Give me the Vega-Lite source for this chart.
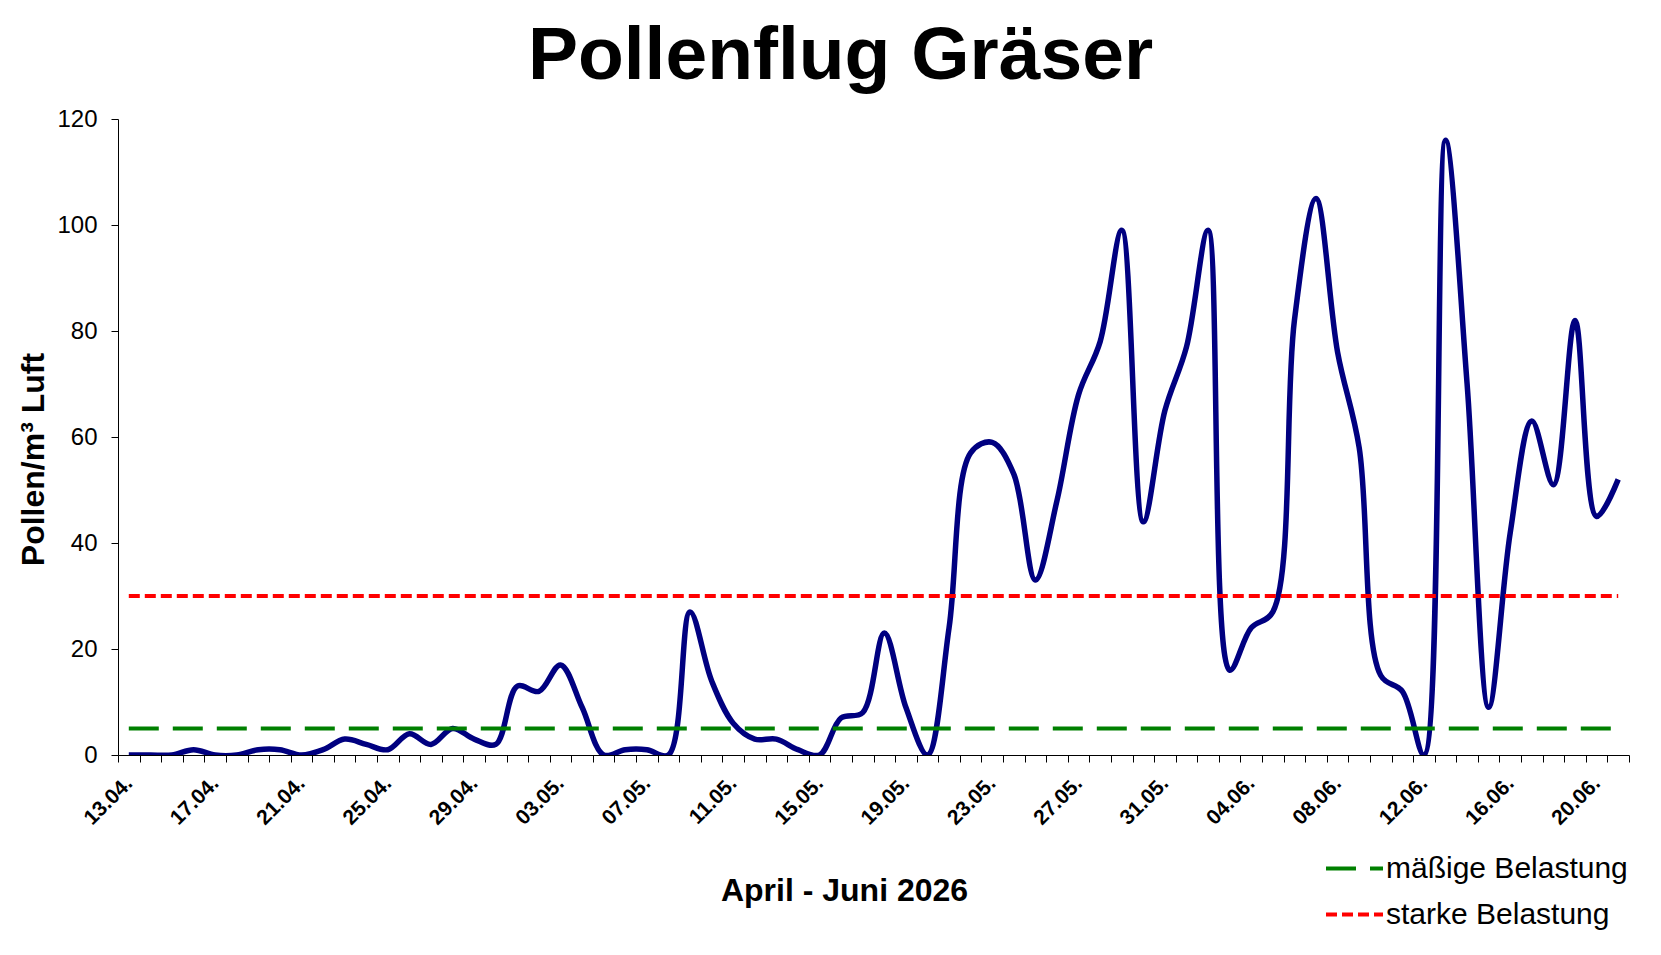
{
  "$schema": "https://vega.github.io/schema/vega-lite/v6.json",
  "width": 1511,
  "height": 636,
  "autosize": {"type": "none"},
  "padding": {"left": 118, "top": 119, "right": 32, "bottom": 200},
  "background": "white",
  "config": {"view": {"stroke": null}, "font": "Liberation Sans"},
  "title": {
    "text": "Pollenflug Gräser",
    "font": "Liberation Sans",
    "fontSize": 75,
    "fontWeight": "bold",
    "color": "black",
    "anchor": "middle",
    "frame": "group",
    "dx": -33,
    "dy": 82,
    "offset": 35,
    "baseline": "alphabetic"
  },
  "datasets": {
    "pollen": [
      {"Datum": "13.04.", "Wert": 0}, {"Datum": "14.04.", "Wert": 0}, {"Datum": "15.04.", "Wert": 0},
      {"Datum": "16.04.", "Wert": 1}, {"Datum": "17.04.", "Wert": 0}, {"Datum": "18.04.", "Wert": 0},
      {"Datum": "19.04.", "Wert": 1}, {"Datum": "20.04.", "Wert": 1}, {"Datum": "21.04.", "Wert": 0},
      {"Datum": "22.04.", "Wert": 1}, {"Datum": "23.04.", "Wert": 3}, {"Datum": "24.04.", "Wert": 2},
      {"Datum": "25.04.", "Wert": 1}, {"Datum": "26.04.", "Wert": 4}, {"Datum": "27.04.", "Wert": 2},
      {"Datum": "28.04.", "Wert": 5}, {"Datum": "29.04.", "Wert": 3}, {"Datum": "30.04.", "Wert": 2},
      {"Datum": "01.05.", "Wert": 13}, {"Datum": "02.05.", "Wert": 12}, {"Datum": "03.05.", "Wert": 17},
      {"Datum": "04.05.", "Wert": 9}, {"Datum": "05.05.", "Wert": 0}, {"Datum": "06.05.", "Wert": 1},
      {"Datum": "07.05.", "Wert": 1}, {"Datum": "08.05.", "Wert": 0}, {"Datum": "09.05.", "Wert": 27},
      {"Datum": "10.05.", "Wert": 14}, {"Datum": "11.05.", "Wert": 6}, {"Datum": "12.05.", "Wert": 3},
      {"Datum": "13.05.", "Wert": 3}, {"Datum": "14.05.", "Wert": 1}, {"Datum": "15.05.", "Wert": 0},
      {"Datum": "16.05.", "Wert": 7}, {"Datum": "17.05.", "Wert": 8}, {"Datum": "18.05.", "Wert": 23},
      {"Datum": "19.05.", "Wert": 9}, {"Datum": "20.05.", "Wert": 0}, {"Datum": "21.05.", "Wert": 24},
      {"Datum": "22.05.", "Wert": 57}, {"Datum": "23.05.", "Wert": 59}, {"Datum": "24.05.", "Wert": 53},
      {"Datum": "25.05.", "Wert": 33}, {"Datum": "26.05.", "Wert": 48}, {"Datum": "27.05.", "Wert": 68},
      {"Datum": "28.05.", "Wert": 78}, {"Datum": "29.05.", "Wert": 99}, {"Datum": "30.05.", "Wert": 44},
      {"Datum": "31.05.", "Wert": 65}, {"Datum": "01.06.", "Wert": 77}, {"Datum": "02.06.", "Wert": 99},
      {"Datum": "03.06.", "Wert": 16}, {"Datum": "04.06.", "Wert": 24}, {"Datum": "05.06.", "Wert": 27},
      {"Datum": "06.06.", "Wert": 82}, {"Datum": "07.06.", "Wert": 105}, {"Datum": "08.06.", "Wert": 76},
      {"Datum": "09.06.", "Wert": 58}, {"Datum": "10.06.", "Wert": 15}, {"Datum": "11.06.", "Wert": 12},
      {"Datum": "12.06.", "Wert": 0}, {"Datum": "13.06.", "Wert": 116}, {"Datum": "14.06.", "Wert": 70},
      {"Datum": "15.06.", "Wert": 9}, {"Datum": "16.06.", "Wert": 42}, {"Datum": "17.06.", "Wert": 63},
      {"Datum": "18.06.", "Wert": 51}, {"Datum": "19.06.", "Wert": 82}, {"Datum": "20.06.", "Wert": 45},
      {"Datum": "21.06.", "Wert": 52}
    ],
    "grenzen": [
      {"Belastung": "mäßige Belastung", "Wert": 5, "Datum": "13.04.", "bis": "21.06."},
      {"Belastung": "starke Belastung", "Wert": 30, "Datum": "13.04.", "bis": "21.06."}
    ]
  },
  "layer": [
    {
      "data": {"name": "pollen"},
      "mark": {
        "type": "line",
        "color": "#000080",
        "strokeWidth": 5.5,
        "interpolate": "catmull-rom",
        "clip": true
      },
      "encoding": {
        "x": {
          "field": "Datum",
          "type": "ordinal",
          "sort": null,
          "bandPosition": 0.5,
          "scale": {"type": "band", "paddingInner": 0, "paddingOuter": 0},
          "axis": {
            "title": "April - Juni 2026",
            "titleFont": "Liberation Sans",
            "titleFontSize": 32,
            "titleFontWeight": "bold",
            "titleColor": "black",
            "titleX": 726,
            "titleY": 145,
            "titleAlign": "center",
            "titleBaseline": "alphabetic",
            "labelExpr": "round(datum.index * 69) % 4 == 0 ? datum.label : ''",
            "labelAngle": -45,
            "labelAlign": "right",
            "labelBaseline": "middle",
            "labelFont": "Liberation Sans",
            "labelFontSize": 21,
            "labelFontWeight": "bold",
            "labelColor": "black",
            "labelPadding": 18,
            "labelOverlap": false,
            "tickBand": "extent",
            "tickSize": 7,
            "tickColor": "black",
            "domainColor": "black"
          }
        },
        "y": {
          "field": "Wert",
          "type": "quantitative",
          "scale": {"domain": [0, 120], "nice": false},
          "axis": {
            "title": "Pollen/m³ Luft",
            "titleFont": "Liberation Sans",
            "titleFontSize": 32,
            "titleFontWeight": "bold",
            "titleColor": "black",
            "titleAngle": -90,
            "titleX": -75,
            "titleY": 340,
            "titleAlign": "center",
            "titleBaseline": "alphabetic",
            "values": [0, 20, 40, 60, 80, 100, 120],
            "grid": false,
            "labelFont": "Liberation Sans",
            "labelFontSize": 24,
            "labelColor": "black",
            "labelPadding": 14,
            "tickSize": 7,
            "tickColor": "black",
            "domainColor": "black"
          }
        }
      }
    },
    {
      "data": {"name": "grenzen"},
      "mark": {"type": "rule", "strokeWidth": 4},
      "encoding": {
        "x": {"field": "Datum", "type": "ordinal", "sort": null, "bandPosition": 0.5},
        "x2": {"field": "bis"},
        "y": {"field": "Wert", "type": "quantitative"},
        "color": {
          "field": "Belastung",
          "type": "nominal",
          "scale": {
            "domain": ["mäßige Belastung", "starke Belastung"],
            "range": ["#008000", "#FF0000"]
          },
          "legend": {
            "orient": "none",
            "legendX": 1206,
            "legendY": 719,
            "title": null,
            "padding": 0,
            "symbolType": "stroke",
            "symbolSize": 3249,
            "symbolStrokeWidth": 4,
            "labelFont": "Liberation Sans",
            "labelFontSize": 30,
            "labelColor": "black",
            "labelLimit": 400,
            "labelOffset": 1,
            "rowPadding": -28
          }
        },
        "strokeDash": {
          "field": "Belastung",
          "type": "nominal",
          "scale": {
            "domain": ["mäßige Belastung", "starke Belastung"],
            "range": [[30, 14], [11, 5]]
          }
        }
      }
    }
  ]
}
